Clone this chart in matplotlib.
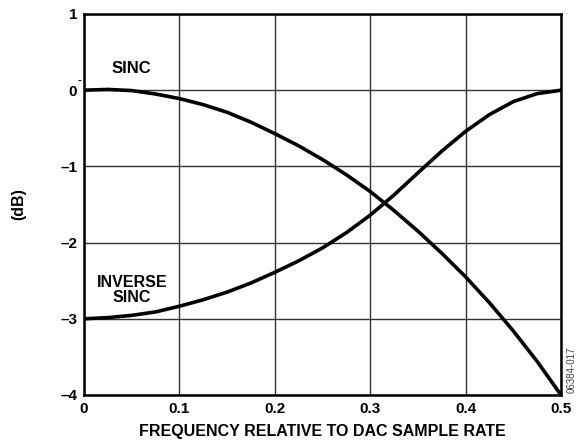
import numpy as np
import matplotlib
matplotlib.use("Agg")
import matplotlib.pyplot as plt

plt.rcParams['font.family'] = ['Liberation Sans', 'DejaVu Sans']
plt.rcParams['font.weight'] = 'bold'
plt.rcParams['axes.labelweight'] = 'bold'

# frequency relative to DAC sample rate
freq = [0.0, 0.025, 0.05, 0.075, 0.1, 0.125, 0.15, 0.175, 0.2, 0.225, 0.25,
        0.275, 0.3, 0.325, 0.35, 0.375, 0.4, 0.425, 0.45, 0.475, 0.5]
sinc_db = [0.0, 0.01, -0.005, -0.05, -0.11, -0.19, -0.29, -0.42, -0.57, -0.73, -0.91,
           -1.11, -1.33, -1.58, -1.85, -2.14, -2.45, -2.79, -3.16, -3.56, -4.0]
inv_sinc_db = [-3.0, -2.985, -2.955, -2.91, -2.835, -2.75, -2.65, -2.53, -2.39, -2.24, -2.07,
               -1.87, -1.64, -1.375, -1.085, -0.80, -0.54, -0.32, -0.15, -0.045, 0.0]

xticks = [0, 0.1, 0.2, 0.3, 0.4, 0.5]
xlabels = ['0', '0.1', '0.2', '0.3', '0.4', '0.5']
yticks = [-4, -3, -2, -1, 0, 1]
ylabels = ['\u20134', '\u20133', '\u20132', '\u20131', '0', '1']

fig = plt.figure(figsize=(5.77, 4.43), dpi=100)
ax = fig.add_axes([0.1456, 0.1084, 0.8267, 0.86])

ax.plot(freq, sinc_db, color='black', lw=2.6, solid_joinstyle='round', zorder=3)
ax.plot(freq, inv_sinc_db, color='black', lw=2.6, solid_joinstyle='round', zorder=3)

ax.set_xlim(0, 0.5)
ax.set_ylim(-4, 1)
ax.set_xticks(xticks)
ax.set_xticklabels(xlabels)
ax.set_yticks(yticks)
ax.set_yticklabels(ylabels)
ax.tick_params(length=0, labelsize=11, pad=5)
ax.grid(True, color='#333333', lw=1.0)
for s in ax.spines.values():
    s.set_linewidth(1.8)

ax.set_xlabel('FREQUENCY RELATIVE TO DAC SAMPLE RATE', fontsize=11.5,
              fontweight='bold', labelpad=6)
ax.set_ylabel('(dB)', fontsize=11.5, fontweight='bold', labelpad=24)

ax.text(0.05, 0.28, 'SINC', fontsize=12, ha='center', va='center')
ax.text(0.05, -2.62, 'INVERSE\nSINC', fontsize=11.5, ha='center', va='center',
        linespacing=1.0)
ax.text(-0.005, 0.12, '-', fontsize=8, ha='center', va='center', clip_on=False)

fig.text(0.991, 0.165, '06384-017', rotation=90, fontsize=7, fontweight='normal',
         ha='center', va='center', color='#444444')

fig.savefig('out.png', dpi=100)
